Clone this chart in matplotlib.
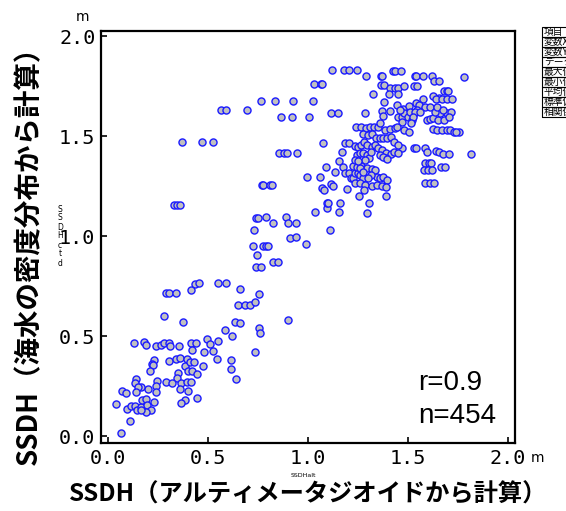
import matplotlib
matplotlib.use('Agg')
import matplotlib.pyplot as plt
from matplotlib.patches import Rectangle
import numpy as np

# SSDH (altimeter - geoid) vs SSDH (from ctd density), metres
lower_left = [
    (0.128, 0.467), (0.182, 0.468), (0.188, 0.455), (0.24, 0.452), (0.265, 0.453), (0.282, 0.467),
    (0.303, 0.467), (0.31, 0.45), (0.353, 0.452), (0.413, 0.467), (0.44, 0.467), (0.42, 0.428),
    (0.493, 0.483), (0.51, 0.458), (0.55, 0.475), (0.478, 0.42), (0.523, 0.423), (0.543, 0.383),
    (0.232, 0.382), (0.218, 0.358), (0.227, 0.353), (0.21, 0.327), (0.307, 0.375), (0.34, 0.385),
    (0.36, 0.388), (0.397, 0.383), (0.387, 0.352), (0.41, 0.368), (0.428, 0.368), (0.402, 0.327),
    (0.418, 0.327), (0.473, 0.35), (0.447, 0.308), (0.352, 0.317), (0.345, 0.292), (0.292, 0.27),
    (0.32, 0.267), (0.365, 0.263), (0.393, 0.268), (0.413, 0.272), (0.362, 0.235), (0.402, 0.225),
    (0.245, 0.275), (0.242, 0.248), (0.238, 0.22), (0.198, 0.233), (0.165, 0.245), (0.138, 0.285),
    (0.135, 0.263), (0.148, 0.247), (0.14, 0.218), (0.07, 0.225), (0.088, 0.215), (0.04, 0.158),
    (0.093, 0.133), (0.115, 0.148), (0.135, 0.148), (0.143, 0.132), (0.167, 0.143), (0.17, 0.18),
    (0.19, 0.187), (0.195, 0.157), (0.23, 0.168), (0.213, 0.132), (0.19, 0.122), (0.165, 0.13),
    (0.443, 0.188), (0.383, 0.18), (0.365, 0.167), (0.108, 0.077), (0.065, 0.015), (0.613, 0.38),
]

middle = [
    (0.743, 0.905), (0.742, 0.847), (0.763, 0.847), (0.823, 0.87), (0.85, 0.87), (0.437, 0.758),
    (0.455, 0.763), (0.548, 0.763), (0.592, 0.763), (0.292, 0.713), (0.305, 0.713), (0.338, 0.713),
    (0.417, 0.728), (0.662, 0.733), (0.753, 0.712), (0.652, 0.653), (0.683, 0.653), (0.71, 0.653),
    (0.735, 0.67), (0.282, 0.6), (0.373, 0.57), (0.635, 0.57), (0.662, 0.563), (0.902, 0.58),
    (0.755, 0.542), (0.762, 0.513), (0.585, 0.528), (0.618, 0.498), (0.733, 0.418), (0.615, 0.335),
    (0.64, 0.283),
    (0.74, 1.092), (0.752, 1.092), (0.792, 1.093), (0.827, 1.063), (0.89, 1.093), (0.902, 1.063),
    (0.938, 1.063), (1.037, 1.118), (1.093, 1.138), (1.093, 1.167), (0.73, 1.03), (0.91, 0.988),
    (0.938, 0.997), (0.992, 0.958), (0.727, 0.952), (0.777, 0.952), (0.79, 0.952), (0.8, 0.952),
    (1.11, 1.03),
]

upper_left = [
    (0.763, 1.675), (0.837, 1.675), (0.927, 1.675), (0.563, 1.628), (0.59, 1.628), (0.693, 1.628),
    (0.867, 1.593), (0.922, 1.593), (1.003, 1.593), (0.368, 1.468), (0.472, 1.468), (0.523, 1.468),
    (0.857, 1.413), (0.882, 1.413), (0.893, 1.413), (0.945, 1.413), (0.995, 1.295), (0.77, 1.255),
    (0.777, 1.255), (0.81, 1.255), (0.818, 1.255), (0.33, 1.155), (0.343, 1.155), (0.36, 1.155),
]

top_band = [
    (1.12, 1.832), (1.178, 1.832), (1.207, 1.832), (1.247, 1.832), (1.288, 1.798), (1.365, 1.798),
    (1.372, 1.798), (1.423, 1.825), (1.437, 1.825), (1.463, 1.825), (1.533, 1.798), (1.542, 1.798),
    (1.573, 1.798), (1.62, 1.798), (1.628, 1.775), (1.657, 1.775), (1.78, 1.795), (1.032, 1.76),
    (1.063, 1.76), (1.072, 1.76), (1.363, 1.755), (1.382, 1.755), (1.41, 1.738), (1.435, 1.738),
    (1.448, 1.738), (1.482, 1.75), (1.532, 1.75), (1.543, 1.75), (1.327, 1.708), (1.407, 1.712),
    (1.45, 1.712), (1.682, 1.723), (1.693, 1.723), (1.702, 1.723), (1.627, 1.70), (1.655, 1.688),
    (1.027, 1.675), (1.38, 1.672), (1.573, 1.683), (1.64, 1.683), (1.668, 1.683), (1.693, 1.683),
    (1.718, 1.683), (1.447, 1.655), (1.477, 1.633), (1.507, 1.65), (1.538, 1.667), (1.553, 1.655),
    (1.583, 1.643), (1.61, 1.643), (1.113, 1.617), (1.148, 1.617), (1.287, 1.617), (1.368, 1.625),
    (1.373, 1.602), (1.412, 1.627), (1.452, 1.597), (1.468, 1.597), (1.482, 1.613), (1.5, 1.597),
    (1.527, 1.605), (1.518, 1.58), (1.543, 1.63), (1.593, 1.58), (1.61, 1.583), (1.623, 1.588),
    (1.652, 1.58), (1.68, 1.58), (1.693, 1.613), (1.717, 1.62), (1.707, 1.597), (1.66, 1.617),
    (1.635, 1.62), (1.623, 1.533), (1.643, 1.53), (1.668, 1.53), (1.693, 1.53), (1.71, 1.53),
    (1.73, 1.522), (1.757, 1.52), (1.073, 1.467),
]

right_cluster = [
    (1.647, 1.647), (1.673, 1.63), (1.46, 1.63), (1.51, 1.618), (1.535, 1.618), (1.56, 1.618),
    (1.527, 1.597), (1.515, 1.563), (1.468, 1.572), (1.48, 1.53), (1.507, 1.518), (1.74, 1.518),
    (1.468, 1.442), (1.53, 1.442), (1.54, 1.438), (1.585, 1.442), (1.593, 1.422), (1.64, 1.427),
    (1.657, 1.422), (1.677, 1.408), (1.707, 1.408), (1.813, 1.408), (1.585, 1.367), (1.607, 1.367),
    (1.613, 1.367), (1.58, 1.33), (1.602, 1.33), (1.622, 1.33), (1.663, 1.347), (1.685, 1.347),
    (1.585, 1.263), (1.61, 1.263), (1.632, 1.263),
]

dense_core = [
    (1.238, 1.543), (1.265, 1.543), (1.29, 1.542), (1.31, 1.543), (1.33, 1.543), (1.348, 1.547),
    (1.362, 1.563), (1.385, 1.532), (1.41, 1.537), (1.433, 1.538), (1.443, 1.543),
    (1.277, 1.508), (1.302, 1.505), (1.318, 1.508), (1.34, 1.488), (1.36, 1.488), (1.373, 1.488),
    (1.397, 1.488), (1.413, 1.497), (1.432, 1.472), (1.452, 1.455),
    (1.185, 1.467), (1.203, 1.467), (1.235, 1.45), (1.252, 1.447), (1.265, 1.455), (1.282, 1.472),
    (1.293, 1.455), (1.318, 1.443), (1.335, 1.455), (1.352, 1.438), (1.368, 1.43), (1.39, 1.413),
    (1.413, 1.408), (1.43, 1.422), (1.448, 1.413), (1.39, 1.388),
    (1.243, 1.405), (1.26, 1.413), (1.277, 1.413), (1.293, 1.405), (1.307, 1.388), (1.285, 1.38),
    (1.313, 1.422), (1.36, 1.405), (1.377, 1.397), (1.397, 1.385),
    (1.168, 1.418), (1.157, 1.375), (1.173, 1.347), (1.185, 1.313), (1.203, 1.313), (1.213, 1.288),
    (1.227, 1.288), (1.235, 1.313), (1.252, 1.317), (1.26, 1.305), (1.277, 1.292), (1.223, 1.35),
    (1.243, 1.347), (1.265, 1.352), (1.293, 1.338), (1.318, 1.335), (1.335, 1.33), (1.343, 1.297),
    (1.36, 1.288), (1.377, 1.297), (1.393, 1.28), (1.313, 1.305), (1.302, 1.288), (1.235, 1.263),
    (1.26, 1.263), (1.285, 1.255), (1.318, 1.252), (1.347, 1.255), (1.37, 1.252), (1.39, 1.247),
    (1.26, 1.338), (1.277, 1.318), (1.235, 1.38), (1.252, 1.375),
    (1.09, 1.347), (1.135, 1.318), (1.06, 1.297), (1.07, 1.242), (1.08, 1.23), (1.113, 1.258),
    (1.127, 1.25), (1.193, 1.235), (1.257, 1.202), (1.28, 1.23), (1.39, 1.202), (1.1, 1.163),
    (1.16, 1.163), (1.305, 1.163), (1.155, 1.118), (1.293, 1.117),
]

tick_vals = [0.0, 0.5, 1.0, 1.5, 2.0]
tick_text = ['0.0', '0.5', '1.0', '1.5', '2.0']
stat_rows = ['項目', '変数X', '変数Y', 'データ数', '最大値', '最小値', '平均値', '標準偏差', '相関係数']
r_text = 'r=0.9'
n_text = 'n=454'

pts = np.array(lower_left + middle + upper_left + top_band + right_cluster + dense_core)

jp = ['Noto Sans CJK JP', 'DejaVu Sans']
W, H = 566, 511
fig = plt.figure(figsize=(W / 100, H / 100), dpi=100)
ax = fig.add_axes([101 / W, 1 - 443 / H, 414 / W, 412 / H])

ax.scatter(pts[:, 0], pts[:, 1], s=26, facecolor='#c0c0c0', edgecolor='#1a1aff',
           linewidths=1.0, zorder=3)

ax.set_xlim(-0.035, 2.035)
ax.set_ylim(-0.035, 2.025)
ax.set_xticks(tick_vals)
ax.set_yticks(tick_vals)
ax.set_xticklabels(tick_text, family='DejaVu Sans Mono', fontsize=14.5)
ax.set_yticklabels(tick_text, family='DejaVu Sans Mono', fontsize=14.5)
ax.tick_params(direction='in', length=4, width=1.2, pad=4)
for sp in ax.spines.values():
    sp.set_linewidth(1.6)

ax.text(1.55, 0.23, r_text, fontsize=20, family='Liberation Sans', va='baseline')
ax.text(1.55, 0.065, n_text, fontsize=20, family='Liberation Sans', va='baseline')

# axis titles and units
fig.text(29 / W, 1 - 249 / H, 'SSDH（海水の密度分布から計算）', rotation=90, ha='center',
         va='center', fontsize=19.8, fontweight='bold', family=jp)
fig.text(308 / W, 1 - 494 / H, 'SSDH（アルティメータジオイドから計算）', ha='center',
         va='center', fontsize=17.5, fontweight='bold', family=jp)
fig.text(83 / W, 1 - 17 / H, 'm', ha='center', va='center', fontsize=10)
fig.text(538 / W, 1 - 458 / H, 'm', ha='center', va='center', fontsize=10)
# small vertical caption, one upright letter per line
fig.text(60 / W, 1 - 236 / H, '\n'.join('SSDHctd'), ha='center', va='center',
         fontsize=5.5, linespacing=1.0, rotation=0)
fig.text(303 / W, 1 - 475 / H, 'SSDHalt', ha='center', va='center', fontsize=4.5)

# clipped statistics table at the right edge
row_h = 10
for i, lab in enumerate(stat_rows):
    top = 27 + i * row_h
    fig.patches.append(Rectangle((542 / W, 1 - (top + row_h) / H), 40 / W, row_h / H,
                                 transform=fig.transFigure, fill=False, lw=0.8,
                                 edgecolor='black'))
    fig.text(544 / W, 1 - (top + row_h / 2) / H, lab, fontsize=7, va='center', family=jp)

fig.savefig('out.png', dpi=100)
